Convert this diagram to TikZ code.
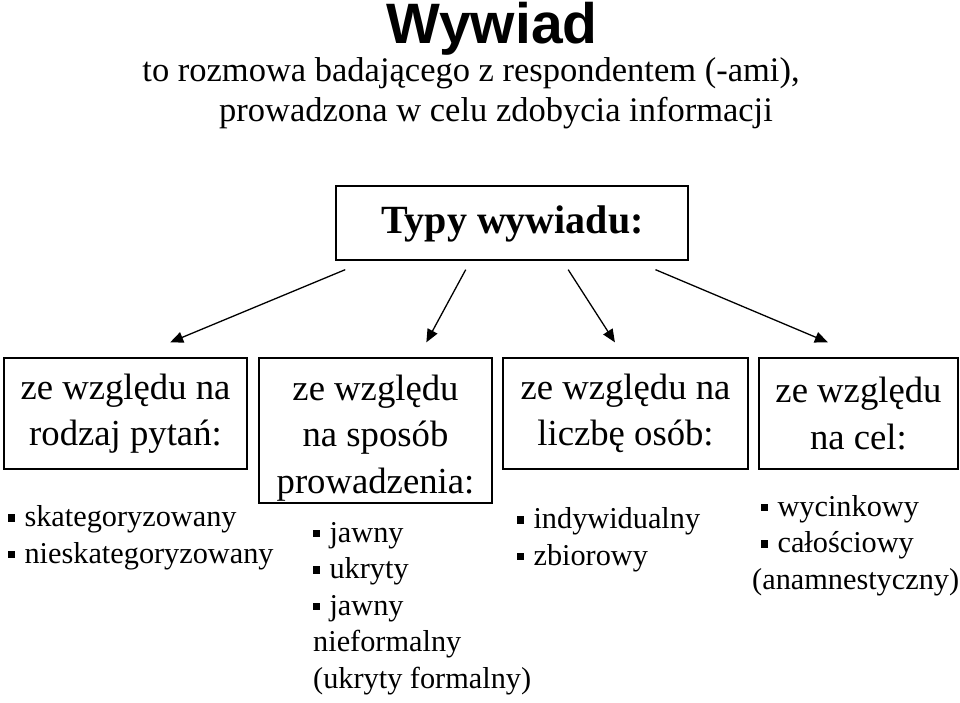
\documentclass[tikz,border=0pt]{standalone}
\usepackage{fontspec}
\setmainfont{Liberation Serif}
\newfontfamily\tytulfont{Liberation Sans}
\usetikzlibrary{arrows.meta,calc}

\newcommand{\kw}{\rule[0.16em]{0.24em}{0.24em}\hspace{0.3em}}

\tikzset{
  box/.style={draw,line width=1.3pt,inner sep=0},
  boxtxt/.style={align=center,font=\fontsize{36.7}{46.5}\selectfont},
  lista/.style={align=left,anchor=base west,inner sep=0,font=\fontsize{30.3}{36.5}\selectfont},
  strz/.style={line width=1.3pt,-{Triangle[length=13pt,width=11pt]}}
}

\begin{document}
\begin{tikzpicture}[x=1pt,y=-1pt]
    \useasboundingbox (0,0) rectangle (960,702);
    %% naglowek
    \node[anchor=base,inner sep=0,font=\tytulfont\bfseries\fontsize{57}{60}\selectfont] (tytul) at (492,43.5) {Wywiad};
    \node[anchor=base,inner sep=0,font=\fontsize{34.5}{40}\selectfont] (def1) at (471,81) {to rozmowa badającego z respondentem (-ami),};
    \node[anchor=base,inner sep=0,font=\fontsize{34.5}{40}\selectfont] (def2) at (496,121) {prowadzona w celu zdobycia informacji};
    %%
    \node[box,minimum width=352,minimum height=74] (typy) at (512,223) {};
    \node[anchor=base,inner sep=0,font=\bfseries\fontsize{40}{44}\selectfont] (typyt) at (512.5,233) {Typy wywiadu:};
    %% ramki
    \node[box,minimum width=243,minimum height=111] (b1) at (125.5,413.5) {};
    \node[box,minimum width=233,minimum height=145] (b2) at (375.5,430.5) {};
    \node[box,minimum width=245,minimum height=111] (b3) at (625.5,413.5) {};
    \node[box,minimum width=199,minimum height=111] (b4) at (858.5,413.5) {};
    \node[boxtxt] (b1t) at (b1) {ze względu na\\rodzaj pytań:};
    \node[boxtxt,yshift=-7.5pt] (b2t) at (b2) {ze względu\\na sposób\\prowadzenia:};
    \node[boxtxt] (b3t) at (b3) {ze względu na\\liczbę osób:};
    \node[boxtxt] (b4t) at (b4) {ze względu\\na cel:};
    %% strzalki
    \draw[strz] ($(typy.south west)!.028!(typy.south east)+(0,9)$) -- ($(b1.north west)!.683!(b1.north east)+(0,-15)$);
    \draw[strz] ($(typy.south west)!.369!(typy.south east)+(0,9)$) -- ($(b2.north west)!.717!(b2.north east)+(0,-15)$);
    \draw[strz] ($(typy.south west)!.659!(typy.south east)+(0,9)$) -- ($(b3.north west)!.457!(b3.north east)+(0,-15)$);
    \draw[strz] ($(typy.south west)!.906!(typy.south east)+(0,9)$) -- ($(b4.north west)!.347!(b4.north east)+(0,-15)$);
    %% listy (base = ostatnia linia)
    \node[lista] (l1) at (8,563) {\kw skategoryzowany\\\kw nieskategoryzowany};
    \node[lista] (l2) at (313,688) {\kw jawny\\\kw ukryty\\\kw jawny\\nieformalny\\(ukryty formalny)};
    \node[lista] (l3) at (517,565) {\kw indywidualny\\\kw zbiorowy};
    \node[lista] (l4) at (752,589) {\hspace{9pt}\kw wycinkowy\\\hspace{9pt}\kw całościowy\\(anamnestyczny)};
\end{tikzpicture}
\end{document}
